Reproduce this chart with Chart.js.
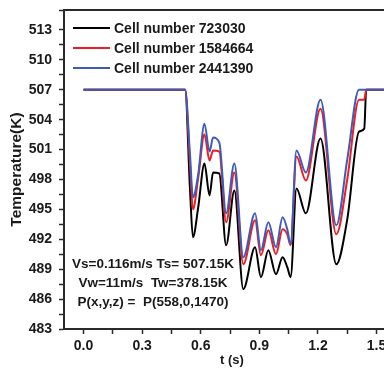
<!DOCTYPE html>
<html>
<head>
<meta charset="utf-8">
<script src="https://cdn.jsdelivr.net/npm/chart.js@4"></script>
<style>
  html, body { margin: 0; padding: 0; background: #fff; overflow: hidden; }
  #wrap { width: 402px; height: 368px; }
</style>
</head>
<body>
<div id="wrap"><canvas id="chart-temp" width="402" height="368"></canvas></div>
<script>
// time axis (s) and temperatures (K) for each mesh
const TIME_S = [0.00, 0.52, 0.545, 0.56, 0.587, 0.619, 0.645, 0.663, 0.695, 0.73, 0.772, 0.818, 0.878, 0.908, 0.946, 0.985, 1.019, 1.043, 1.06, 1.09, 1.138, 1.213, 1.294, 1.35, 1.41, 1.437, 1.447, 1.62];
const CELL_723030 = [507, 507, 497, 492.2, 495.2, 499.6, 496.4, 498.7, 498.6, 491.4, 496.9, 487.0, 491.2, 488.2, 490.9, 488.5, 490.2, 489.2, 488.2, 497.1, 494.6, 502.1, 489.5, 494.0, 502.8, 503.1, 507, 507];
const CELL_1584664 = [507, 507, 499.5, 495.0, 498.2, 502.5, 499.9, 500.9, 500.8, 493.7, 498.7, 489.5, 493.9, 490.4, 492.9, 490.5, 493.0, 492.5, 491.4, 500.3, 497.9, 505.1, 492.5, 498.0, 506.0, 506.0, 507, 507];
const CELL_2441390 = [507, 507, 500.5, 496.2, 498.5, 503.6, 500.8, 502.2, 501.7, 494.6, 499.6, 490.2, 494.6, 490.9, 493.7, 491.2, 494.2, 493.0, 491.5, 500.9, 498.7, 506.0, 493.4, 500.0, 507, 507, 507, 507];

const SERIES_LABELS = ['Cell number 723030', 'Cell number 1584664', 'Cell number 2441390'];
const SERIES_COLORS = ['#000000', '#ee1c25', '#3f5bb8'];

const NOTE_LINES = ['Vs=0.116m/s Ts= 507.15K', 'Vw=11m/s  Tw=378.15K', 'P(x,y,z) =  P(558,0,1470)'];

const AXIS_COLOR = '#2a2a2a';
const FONT = '"Liberation Sans", Arial, sans-serif';

function toPoints(ys) {
  return TIME_S.map((t, i) => ({ x: t, y: ys[i] }));
}

// legend + condition notes + top frame line
const overlay = {
  id: 'overlay',
  afterDraw(chart) {
    const { ctx, chartArea } = chart;
    ctx.save();

    ctx.strokeStyle = AXIS_COLOR;
    ctx.lineWidth = 2;
    ctx.beginPath();
    ctx.moveTo(chartArea.left, chartArea.top);
    ctx.lineTo(chartArea.right, chartArea.top);
    ctx.stroke();

    ctx.font = 'bold 14px ' + FONT;
    ctx.textBaseline = 'middle';
    ctx.textAlign = 'left';
    chart.data.datasets.forEach((ds, i) => {
      const y = 28 + i * 20;
      ctx.strokeStyle = ds.borderColor;
      ctx.lineWidth = 2;
      ctx.beginPath();
      ctx.moveTo(73, y);
      ctx.lineTo(110, y);
      ctx.stroke();
      ctx.fillStyle = '#1a1a1a';
      ctx.fillText(ds.label, 114, y + 1);
    });

    ctx.font = 'bold 13.5px ' + FONT;
    ctx.textAlign = 'center';
    NOTE_LINES.forEach((line, i) => {
      ctx.fillText(line, 153, 264 + i * 19);
    });
    ctx.restore();
  }
};

const datasets = [CELL_723030, CELL_1584664, CELL_2441390].map((ys, i) => ({
  label: SERIES_LABELS[i],
  data: toPoints(ys),
  borderColor: SERIES_COLORS[i],
  borderWidth: 2,
  pointRadius: 0,
  fill: false,
  cubicInterpolationMode: 'monotone',
  order: 3 - i,
}));

new Chart(document.getElementById('chart-temp'), {
  type: 'line',
  data: { datasets },
  options: {
    responsive: false,
    animation: false,
    layout: { padding: { top: 10, right: 2, left: 7, bottom: 0 } },
    plugins: {
      legend: { display: false },
      tooltip: { enabled: false },
    },
    scales: {
      x: {
        type: 'linear',
        min: -0.1,
        max: 1.62,
        afterFit: (s) => { s.height = 39; },
        border: { color: AXIS_COLOR, width: 2 },
        grid: { drawOnChartArea: false, tickLength: 5, tickColor: AXIS_COLOR, tickWidth: 1.5 },
        ticks: {
          stepSize: 0.15,
          includeBounds: false,
          autoSkip: false,
          maxRotation: 0,
          padding: 4,
          color: '#1a1a1a',
          font: { family: FONT, size: 14, weight: 'bold' },
          callback: (v) => {
            const k = Math.round(v / 0.15);
            return k % 2 === 0 ? (k * 0.15).toFixed(1) : '';
          },
        },
        title: {
          display: true,
          text: 't (s)',
          color: '#1a1a1a',
          padding: { top: 0, bottom: 0 },
          font: { family: FONT, size: 13, weight: 'bold' },
        },
      },
      y: {
        min: 483,
        max: 515,
        afterFit: (s) => { s.width = 57; s.paddingTop = 0; s.paddingBottom = 0; },
        border: { color: AXIS_COLOR, width: 2 },
        grid: { drawOnChartArea: false, tickLength: 5, tickColor: AXIS_COLOR, tickWidth: 1.5 },
        ticks: {
          stepSize: 1.5,
          autoSkip: false,
          padding: 7,
          color: '#1a1a1a',
          font: { family: FONT, size: 14, weight: 'bold' },
          callback: (v) => {
            const k = Math.round((v - 483) / 1.5);
            return k % 2 === 0 ? String(483 + k * 1.5) : '';
          },
        },
        title: {
          display: true,
          text: 'Temperature(K)',
          color: '#1a1a1a',
          padding: { top: 0, bottom: 0 },
          font: { family: FONT, size: 15.5, weight: 'bold' },
        },
      },
    },
  },
  plugins: [overlay],
});
</script>
</body>
</html>
